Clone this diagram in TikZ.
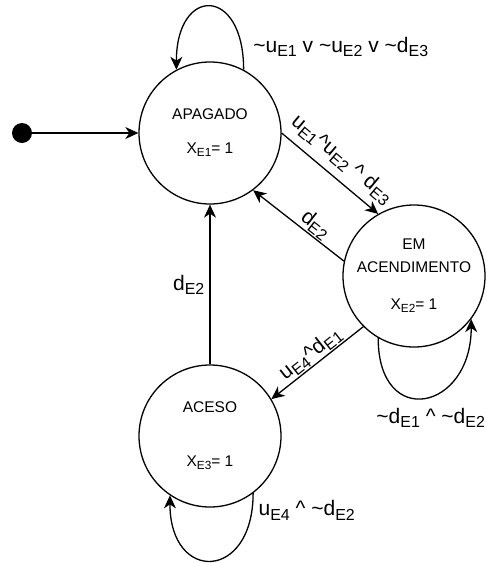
\documentclass[tikz,border=0pt]{standalone}
\usepackage{fontspec}
\usepackage{graphicx}
\usepackage{tikz}
\usetikzlibrary{positioning,arrows.meta}
\setmainfont{Liberation Sans}

\newcommand{\nodefont}{\fontsize{15.5}{18}\selectfont}
\newcommand{\condfont}{\fontsize{21}{24}\selectfont}
\newcommand{\sbs}[1]{\raisebox{-.2em}{\scalebox{.76}{#1}}}
\newcommand{\tld}{\textasciitilde}
\newcommand{\crt}{\textasciicircum}

\begin{document}
\begin{tikzpicture}[x=1pt,y=1pt,>={Stealth[length=13pt,width=12pt,inset=4pt]},
  state/.style={draw,circle,line width=1.3pt,minimum size=142pt,inner sep=0pt,align=center,font=\nodefont},
  edge/.style={->,line width=1.3pt},
  cond/.style={font=\condfont,inner sep=1pt}]
  \useasboundingbox (0,0) rectangle (487,-563);

  \node at(22,-133)[circle,fill,inner sep=0pt,minimum size=20pt](init){};

  \node at(210,-133)[state](apagado){APAGADO\\[16pt]X\sbs{E1}= 1};
  \node at(414,-276)[state](acend){EM\\[5pt]ACENDIMENTO\\[19pt]X\sbs{E2}= 1};
  \node at(210,-436)[state](aceso){ACESO\\[36pt]X\sbs{E3}= 1};

  \draw [edge](init) -- (apagado);
  \draw [edge](apagado.east) -- (acend.120)
    node[cond,midway,sloped,above=7pt]{u\sbs{E1}\crt u\sbs{E2} \crt{} d\sbs{E3}};
  \draw [edge](acend.168) -- (apagado.-53)
    node[cond,pos=.39,sloped,above]{d\sbs{E2}};
  \draw [edge](acend.225) -- (aceso.31)
    node[cond,midway,sloped,above]{u\sbs{E4}\crt d\sbs{E1}};
  \draw [edge](aceso) -- (apagado)
    node[cond,midway,left=4pt]{d\sbs{E2}};

  \draw [edge](apagado.62) .. controls +(90:84) and +(90:84) .. (apagado.118)
    node[cond,pos=.1,right=10pt]{\tld u\sbs{E1} v \tld u\sbs{E2} v \tld d\sbs{E3}};
  \draw [edge](acend.240) .. controls +(270:92) and +(270:92) .. (acend.-37)
    node[cond,pos=.5,below=9pt,xshift=6pt]{\tld d\sbs{E1} \crt{} \tld d\sbs{E2}};
  \draw [edge](aceso.-53) .. controls +(270:88) and +(270:88) .. (aceso.236)
    node[cond,pos=.07,right=5pt]{u\sbs{E4} \crt{} \tld d\sbs{E2}};
\end{tikzpicture}
\end{document}
